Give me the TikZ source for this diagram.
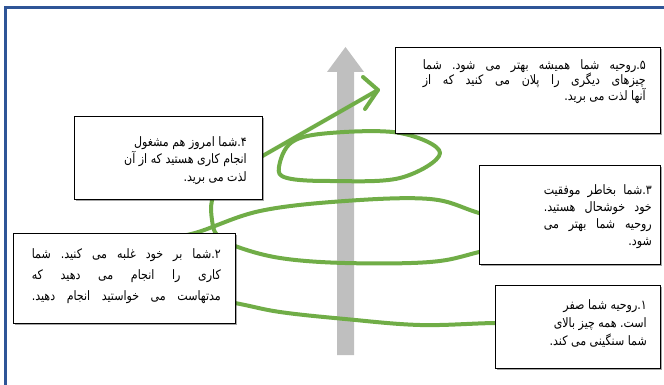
\documentclass[tikz,border=0pt]{standalone}
\usepackage{fontspec}
\newfontfamily\arabicfont[Script=Arabic,FakeStretch=0.85]{DejaVu Sans}
\TeXXeTstate=1
\frenchspacing
\usetikzlibrary{shadows}
\definecolor{spiralgreen}{RGB}{112,173,71}
\definecolor{frameblue}{RGB}{47,85,151}
\definecolor{shaftgrey}{RGB}{191,191,191}
\begin{document}
\begin{tikzpicture}[x=1pt,y=-1pt,
  box/.style={draw=black,line width=1.1pt,fill=white,anchor=north west,inner sep=0pt,
    drop shadow={shadow xshift=1.5pt,shadow yshift=-1.5pt,opacity=0.35,fill=black}},
  txt/.style={anchor=north east,inner sep=0pt,align=right},
  spiral/.style={draw=spiralgreen,line width=4pt,line cap=round,line join=round}]
\useasboundingbox (0,0) rectangle (664,385);
% frame
\draw[frameblue,line width=3pt] (5,386) -- (5,8) -- (665,8);
% grey upward arrow
\fill[shaftgrey] (337,355) -- (337,72) -- (327,72) -- (345.5,47) -- (364,72) -- (354,72) -- (354,355) -- cycle;
% green spiral
\draw[spiral] plot[smooth,tension=0.6] coordinates {(560,323) (495,323) (420,325) (345,319) (280,312) (235,303) (150,287) (115,262) (150,242) (195,233) (260,211) (345,201) (430,199) (479,213) (545,233) (479,252) (430,262) (345,263) (280,258) (235,246) (217,235) (212,220) (212,200) (222,175) (245,166)} -- (378,90);
\draw[spiral] (363,77) -- (378,90) -- (365,109);
\draw[spiral] plot[smooth cycle,tension=0.6] coordinates {(279,167) (292,142) (330,133) (400,133) (440,153) (400,178) (330,181) (287,178)};
% boxes
\node[box,minimum width=265pt,minimum height=86pt] (b5) at (395,47) {};
\node[box,minimum width=188pt,minimum height=83pt] (b4) at (74,116) {};
\node[box,minimum width=181pt,minimum height=99pt] (b3) at (479,165) {};
\node[box,minimum width=222pt,minimum height=90pt] (b2) at (13,233) {};
\node[box,minimum width=165pt,minimum height=83pt] (b1) at (495,285) {};
% texts
\node[txt,font={\arabicfont\fontsize{13}{15.5}\selectfont}] (t5) at (646,59) {%
\hbox to 223pt{\beginR ۵.روحیه شما همیشه بهتر می شود. شما\endR}\\
\hbox to 223pt{\beginR چیزهای دیگری را پلان می کنید که از\endR}\\
\beginR آنها لذت می برید.\endR};
\node[txt,font={\arabicfont\fontsize{13}{17.5}\selectfont}] (t4) at (247,136) {%
\beginR ۴.شما امروز هم مشغول\endR\\
\beginR انجام کاری هستید که از آن\endR\\
\beginR لذت می برید.\endR};
\node[txt,font={\arabicfont\fontsize{13}{17}\selectfont}] (t3) at (652,184) {%
\hbox to 108pt{\beginR ۳.شما بخاطر موفقیت\endR}\\
\hbox to 108pt{\beginR خود خوشحال هستید.\endR}\\
\hbox to 108pt{\beginR روحیه شما بهتر می\endR}\\
\beginR شود.\endR};
\node[txt,font={\arabicfont\fontsize{13}{21}\selectfont}] (t2) at (221,248) {%
\hbox to 189pt{\beginR ۲.شما بر خود غلبه می کنید. شما\endR}\\
\hbox to 189pt{\beginR کاری را انجام می دهید که\endR}\\
\hbox to 189pt{\beginR مدتهاست می خواستید انجام دهید.\endR}};
\node[txt,font={\arabicfont\fontsize{13}{18}\selectfont}] (t1) at (647,299) {%
\beginR ۱.روحیه شما صفر\endR\\
\beginR است. همه چیز بالای\endR\\
\beginR شما سنگینی می کند.\endR};
\end{tikzpicture}
\end{document}
